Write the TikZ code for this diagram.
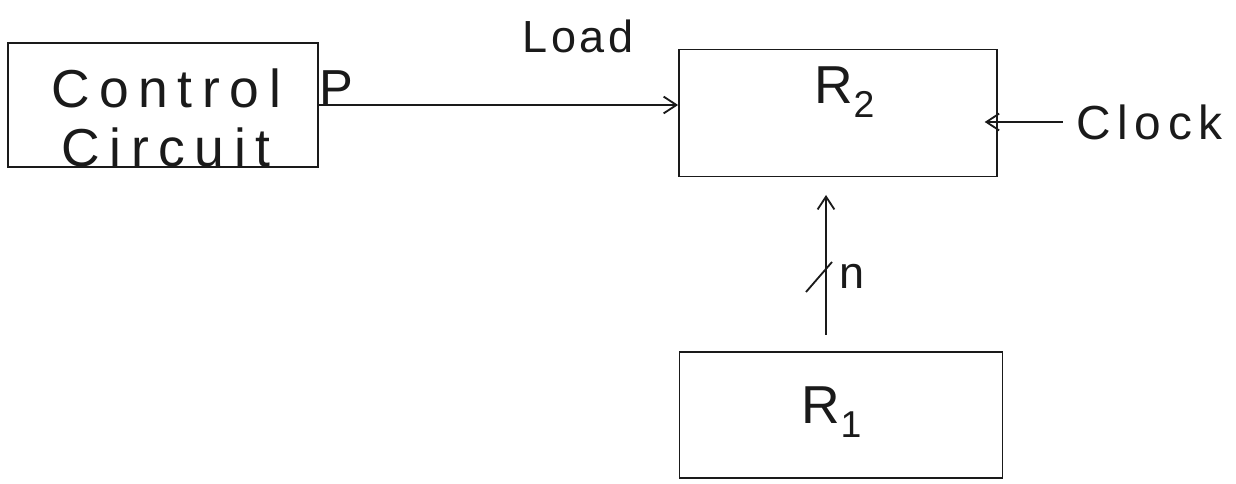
\documentclass[tikz,border=0pt]{standalone}
\usepackage{fontspec}
\setmainfont{Liberation Sans}
\usetikzlibrary{arrows.meta,positioning}
\definecolor{regInk}{HTML}{1A1A1A}
\tikzset{
  regBlock/.style={
    draw=regInk,
    line width=1.3pt,
    align=center,
    inner sep=0pt,
    text=regInk,
    font=\fontsize{38}{42}\selectfont\addfontfeature{LetterSpace=18}
  },
  regArrow/.style={
    -{Straight Barb[length=3.2mm,width=4.2mm]},
    line width=1.3pt,
    draw=regInk
  },
  regLabel/.style={
    text=regInk,
    inner sep=0pt,
    font=\fontsize{32}{36}\selectfont\addfontfeature{LetterSpace=8}
  }
}
\begin{document}
\begin{tikzpicture}[x=0.025cm,y=-0.025cm]
\useasboundingbox (0,0) rectangle (1236,484);

% Control unit and the two registers.
\node[regBlock, minimum width=310*0.025cm, minimum height=124*0.025cm] (ctrl) at (163,105)
  {};
\node[regBlock, draw=none, anchor=center] (ctrlText) at (166,118) {Control\\Circuit};
\node[regLabel, font=\fontsize{36}{40}\selectfont] (pOut) at (336,88) {P};

\node[regBlock, minimum width=318*0.025cm, minimum height=127*0.025cm] (rtwo) at (838,113)
  {};
\node[regLabel, font=\fontsize{38}{40}\selectfont] (rtwoText) at (845,92) {R\textsubscript{2}};
\node[regBlock, minimum width=323*0.025cm, minimum height=126*0.025cm] (rone) at (841,415)
  {};
\node[regLabel, font=\fontsize{38}{40}\selectfont] (roneText) at (832,412) {R\textsubscript{1}};

% Load line from the control circuit into R2.
\node[regLabel] (load) at (578,36) {Load};
\draw[regArrow] (ctrl.east) -- (ctrl.east -| rtwo.west);

% Clock input.
\node[regLabel, anchor=west, font=\fontsize{34}{38}\selectfont\addfontfeature{LetterSpace=14}] (clk) at (1076,122) {Clock};
\draw[regArrow] ([xshift=-0.33cm]clk.west) -- ([xshift=-0.33cm]clk.west -| rtwo.east);

% n-bit transfer R1 -> R2.
\coordinate (nFoot) at (826,335);
\coordinate (nTip) at (826,195);
\draw[regArrow] (nFoot) -- (nTip);
\coordinate (slashA) at (806,292);
\coordinate (slashB) at (832,262);
\draw[line width=1.3pt, draw=regInk] (slashA) -- (slashB);
\node[regLabel] (nBits) at (852,276) {n};

\end{tikzpicture}
\end{document}
